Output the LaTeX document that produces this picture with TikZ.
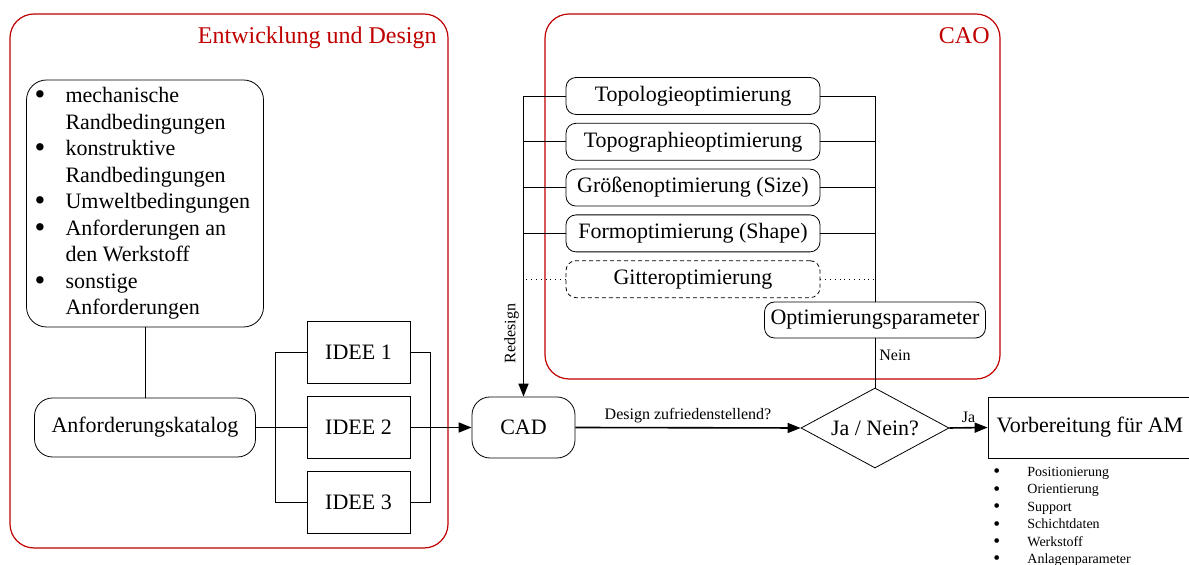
\documentclass[tikz,border=0pt]{standalone}
\usepackage{fontspec}
\setmainfont{Liberation Serif}
\usepackage{xcolor}
\usepackage{tikz}
\usetikzlibrary{positioning}
\usetikzlibrary{arrows.meta}
\usetikzlibrary{shapes.geometric}
\definecolor{rahmenrot}{RGB}{192,0,0}
\newcommand{\Punkt}{\raisebox{-0.1em}{\scalebox{1.4}{\textbullet}}}

\begin{document}
\begin{tikzpicture}[x=0.5pt,y=-0.5pt]
    \tikzset{Rahmen/.style={draw=rahmenrot, line width=0.6pt, rounded corners=12pt}};
    \tikzset{Titel/.style={anchor=base east, text=rahmenrot, inner sep=0pt, font=\fontsize{12}{14}\selectfont}};
    \tikzset{Opt/.style={rectangle, draw, rounded corners=5pt, text centered, minimum width=127pt, minimum height=18.5pt, inner sep=0pt, font=\fontsize{11}{13}\selectfont}};
    \tikzset{Idee/.style={rectangle, draw, minimum width=51.5pt, minimum height=31pt, inner sep=0pt, font=\fontsize{11}{13}\selectfont}};
    \tikzset{Rund/.style={rectangle, draw, rounded corners=9pt, inner sep=0pt, font=\fontsize{11}{13}\selectfont}};
    \tikzset{Pfeil/.style={-{Triangle[length=6.5pt,width=5pt]}, line width=0.8pt}};
    \tikzset{Klein/.style={font=\fontsize{8}{9.5}\selectfont, inner sep=2pt}};
    \useasboundingbox (0,0) rectangle (1189,565);
    \draw[Rahmen] (10,14) rectangle (448,548);
    \draw[Rahmen] (545,14) rectangle (1000,379);
    \node[Titel] (titelA) at (437,44) {Entwicklung und Design};
    \node[Titel] (titelB) at (990,44) {CAO};

    \node[Rund, rounded corners=10pt, minimum width=118.5pt, minimum height=123.5pt, font=\fontsize{11}{13.25}\selectfont] (anf) at (145,203.5) {\begin{tabular}{@{}p{15.5pt}@{}p{95pt}@{}}
      \Punkt & mechanische\\ & Randbedingungen\\
      \Punkt & konstruktive\\ & Randbedingungen\\
      \Punkt & Umweltbedingungen\\
      \Punkt & Anforderungen an\\ & den Werkstoff\\
      \Punkt & sonstige\\ & Anforderungen
    \end{tabular}};
    \node[Rund, minimum width=110.5pt, minimum height=29.5pt] (katalog) at (145,427.5) {Anforderungskatalog};

    \node[Idee] (idee2) at (358.5,427.5) {IDEE 2};
    \node[Idee, above=6pt of idee2] (idee1) {IDEE 1};
    \node[Idee, below=6pt of idee2] (idee3) {IDEE 3};
    \node[Rund, minimum width=51.5pt, minimum height=30.5pt] (cad) at (523.5,427.5) {CAD};

    \node[diamond, draw, aspect=1.85, minimum width=74pt, minimum height=40pt, inner sep=0pt, font=\fontsize{11}{13}\selectfont] (frage) at (875,428) {Ja / Nein?};
    \node[rectangle, draw, minimum width=102pt, minimum height=30.5pt, inner sep=0pt, font=\fontsize{11}{13}\selectfont] (vorb) at (1090,427.5) {Vorbereitung für AM};
    \node[anchor=north west, inner sep=0pt, font=\fontsize{7}{8.7}\selectfont] (amliste) at (993,464) {\begin{tabular}{@{}p{17pt}@{}l@{}}
      \Punkt & Positionierung\\
      \Punkt & Orientierung\\
      \Punkt & Support\\
      \Punkt & Schichtdaten\\
      \Punkt & Werkstoff\\
      \Punkt & Anlagenparameter
    \end{tabular}};

    \node[Opt] (topo) at (693,96) {Topologieoptimierung};
    \node[Opt, below=4pt of topo] (topgr) {Topographieoptimierung};
    \node[Opt, below=4pt of topgr] (groesse) {Größenoptimierung (Size)};
    \node[Opt, below=4pt of groesse] (form) {Formoptimierung (Shape)};
    \node[Opt, dash pattern=on 2pt off 1.5pt, below=4pt of form] (gitter) {Gitteroptimierung};
    \node[Opt, minimum width=110.5pt, minimum height=18pt] (param) at (875,320) {Optimierungsparameter};

    \foreach \n in {topo,topgr,groesse,form}{
      \draw (\n.west) -- (\n.west -| cad.north);
      \draw (\n.east) -- (\n.east -| param.north);
    }
    \draw[dotted] (gitter.west) -- (gitter.west -| cad.north);
    \draw[dotted] (gitter.east) -- (gitter.east -| param.north);
    \draw (topo.east -| param.north) -- (param.north);
    \draw[Pfeil] (topo.west -| cad.north) -- node[Klein, pos=0.79, rotate=90, above] (redesign) {Redesign} (cad.north);
    \draw (param.south) -- node[Klein, pos=0.35, right] (nein) {Nein} (frage.north);
    \draw[Pfeil] (cad.east) -- node[Klein, above] (zufrieden) {Design zufriedenstellend?} (frage.west);
    \draw[Pfeil] (frage.east) -- node[Klein, above] (ja) {Ja} (vorb.west);

    \draw (anf.south) -- (katalog.north);
    \coordinate (busL) at (275,0);
    \coordinate (busR) at (430,0);
    \draw (katalog.east) -- (idee2.west);
    \draw (idee1.west) -- (idee1.west -| busL) -- (idee3.west -| busL) -- (idee3.west);
    \draw (idee1.east) -- (idee1.east -| busR) -- (idee3.east -| busR) -- (idee3.east);
    \draw[Pfeil] (idee2.east) -- (cad.west);
  \end{tikzpicture}
\end{document}
